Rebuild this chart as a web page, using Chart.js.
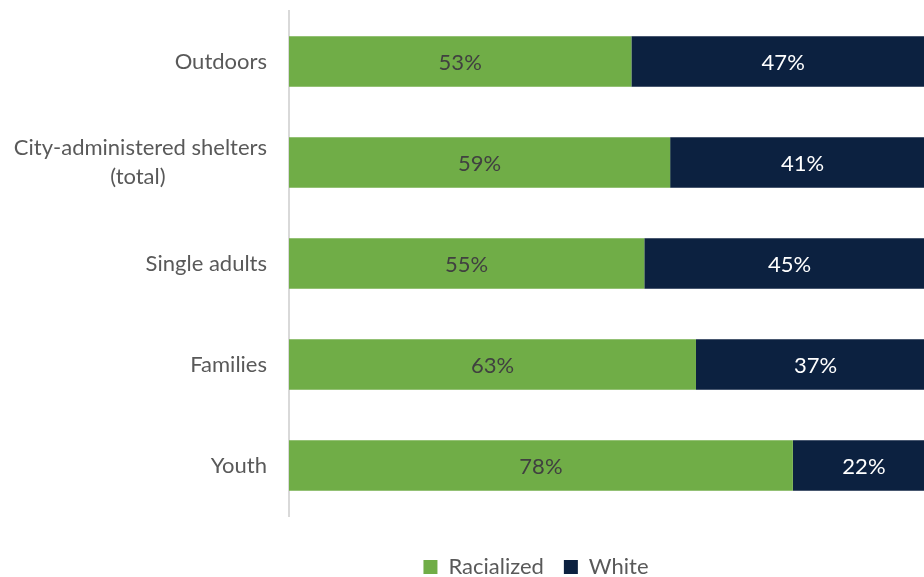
<!DOCTYPE html>
<html>
<head>
<meta charset="utf-8">
<script src="https://cdn.jsdelivr.net/npm/chart.js@4.4.1/dist/chart.umd.min.js"></script>
<style>body{margin:0;background:#fff;overflow:hidden}</style>
</head>
<body>
<!-- bars run past the right edge in the source, so the canvas is a bit wider than the window -->
<canvas id="bar-chart" width="935" height="577"></canvas>
<script>
const categories = ['Outdoors', ['City-administered shelters', '(total)'], 'Single adults', 'Families', 'Youth'];
const racialized = [53, 59, 55, 63, 78];
const white = [47, 41, 45, 37, 22];

const FONT = 'Lato';
const SIZE = 22;

// center the lines of a multi-line tick label (they are drawn right-aligned)
const measure = document.createElement('canvas').getContext('2d');
function centerLines(label) {
    if (!Array.isArray(label)) return label;
    measure.font = SIZE + 'px ' + FONT;
    const widths = label.map(l => measure.measureText(l).width);
    const max = Math.max(...widths);
    const sp = measure.measureText(' ').width;
    return label.map((l, k) => l + ' '.repeat(Math.round((max - widths[k]) / 2 / sp)));
}

const barLabels = {
    id: 'barLabels',
    afterDatasetsDraw(chart) {
        const ctx = chart.ctx;
        ctx.save();
        ctx.font = SIZE + 'px ' + FONT;
        ctx.textAlign = 'center';
        ctx.textBaseline = 'middle';
        chart.data.datasets.forEach((ds, i) => {
            chart.getDatasetMeta(i).data.forEach((bar, j) => {
                const p = bar.getProps(['x', 'y', 'base'], true);
                ctx.fillStyle = ds.labelColor;
                ctx.fillText(ds.data[j] + '%', (p.x + p.base) / 2, p.y + 1);
            });
        });
        ctx.restore();
    }
};

// legend sits centred under labels + bars and lower than chart.js puts it
const legendPlace = {
    id: 'legendPlace',
    afterLayout(chart) {
        const lg = chart.legend;
        lg.left = 148;
        lg.right = 924;
        lg.top += 20;
        lg.bottom += 20;
    }
};

new Chart(document.getElementById('bar-chart'), {
    type: 'bar',
    data: {
        labels: categories,
        datasets: [{
            label: 'Racialized',
            data: racialized,
            backgroundColor: '#70AD47',
            labelColor: '#404040'
        }, {
            label: 'White',
            data: white,
            backgroundColor: '#0C2140',
            labelColor: '#ffffff'
        }]
    },
    plugins: [barLabels, legendPlace],
    options: {
        indexAxis: 'y',
        responsive: false,
        animation: false,
        categoryPercentage: 1,
        barPercentage: 0.5,
        layout: {
            padding: { left: 0, right: 0, top: 11, bottom: 9 }
        },
        scales: {
            x: {
                stacked: true,
                display: false,
                min: 0,
                max: 100
            },
            y: {
                stacked: true,
                afterFit: (scale) => {
                    scale.width = 289;
                    scale.paddingTop = 0;
                    scale.paddingBottom = 0;
                },
                grid: { drawOnChartArea: false, drawTicks: false },
                border: { display: true, color: '#D9D9D9', width: 2 },
                ticks: {
                    padding: 22,
                    color: '#595959',
                    font: { family: FONT, size: SIZE, lineHeight: 1.35 },
                    callback: function (value) {
                        return centerLines(this.getLabelForValue(value));
                    }
                }
            }
        },
        plugins: {
            tooltip: { enabled: false },
            legend: {
                position: 'bottom',
                labels: {
                    boxWidth: 14,
                    boxHeight: 14,
                    padding: 20,
                    color: '#595959',
                    font: { family: FONT, size: SIZE }
                }
            }
        }
    }
});
</script>
</body>
</html>
